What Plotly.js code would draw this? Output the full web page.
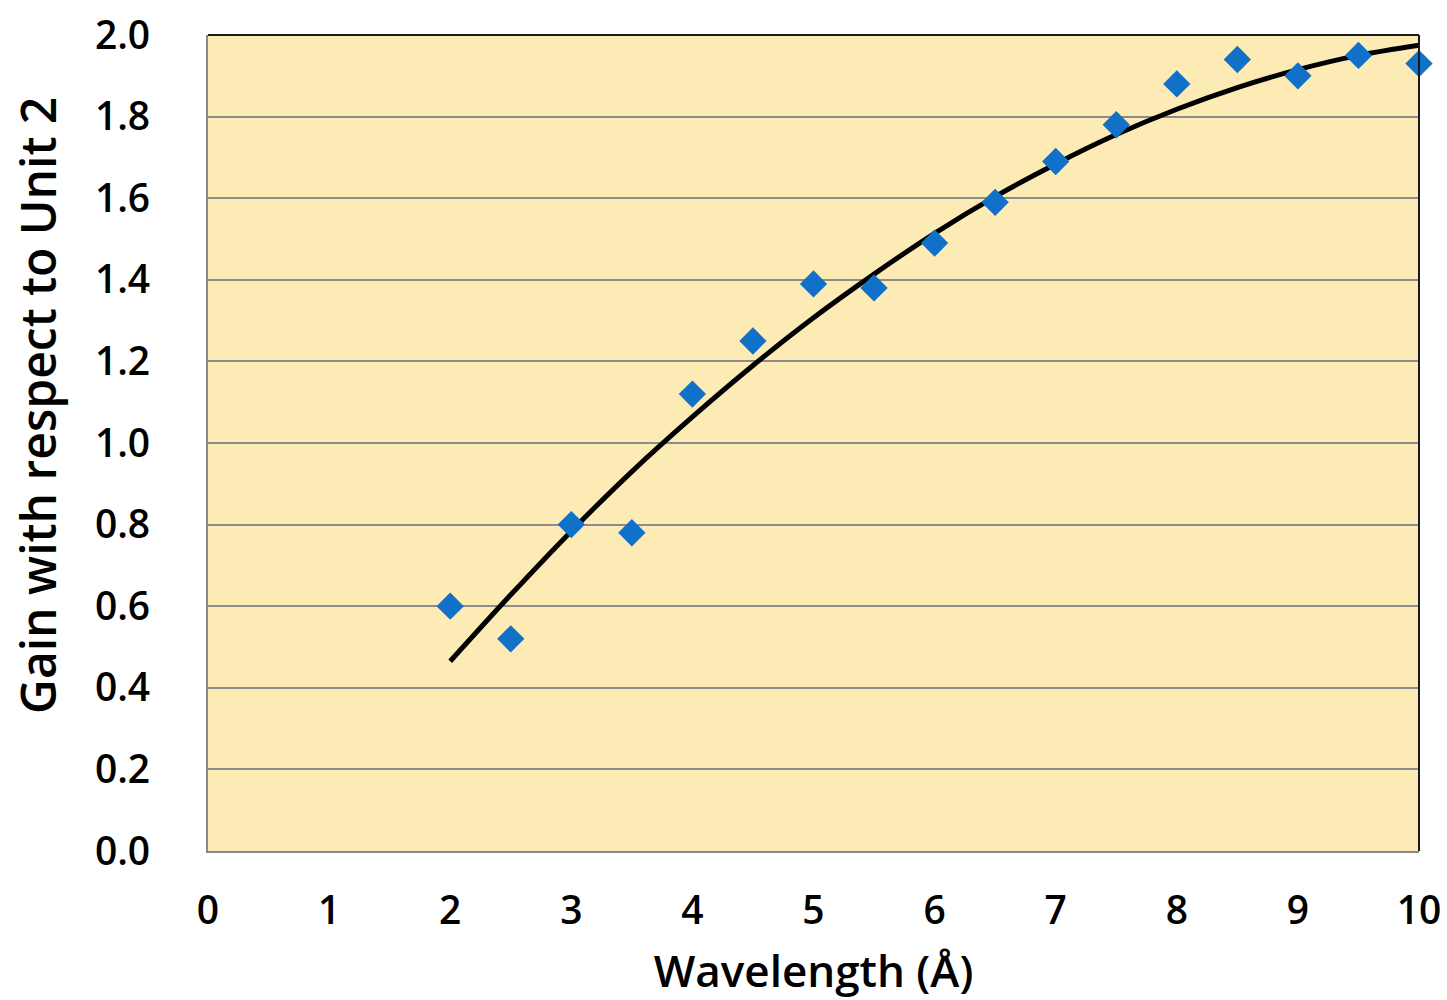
<!DOCTYPE html>
<html>
<head>
<meta charset="utf-8">
<script src="https://cdn.plot.ly/plotly-3.0.1.min.js"></script>
<style>html,body{margin:0;padding:0;background:#fff;}#chart{width:1447px;height:1000px;}</style>
</head>
<body>
<div id="chart"></div>
<script>
// Measured points
const wavelength = [2, 2.5, 3, 3.5, 4, 4.5, 5, 5.5, 6, 6.5, 7, 7.5, 8, 8.5, 9, 9.5, 10];
const gain = [0.60, 0.52, 0.80, 0.78, 1.12, 1.25, 1.39, 1.38, 1.49, 1.59, 1.69, 1.78, 1.88, 1.94, 1.90, 1.95, 1.93];
// Fitted trend curve
const fitX = [2, 2.5, 3, 3.5, 4, 4.5, 5, 5.5, 6, 6.5, 7, 7.5, 8, 8.5, 9, 9.5, 10];
const fitY = [0.465, 0.628, 0.784, 0.930, 1.064, 1.190, 1.307, 1.414, 1.514, 1.604, 1.684, 1.756, 1.818, 1.871, 1.915, 1.950, 1.975];
// Tick labels
const xTicks = [0, 1, 2, 3, 4, 5, 6, 7, 8, 9, 10];
const yTicks = [0, 0.2, 0.4, 0.6, 0.8, 1.0, 1.2, 1.4, 1.6, 1.8, 2.0];
const yTitle = 'Gain with respect to Unit 2';
const xTitle = 'Wavelength (Å)';

const FONT = '"Open Sans", "DejaVu Sans", sans-serif';

const traces = [
  {
    x: fitX, y: fitY, type: 'scatter', mode: 'lines',
    line: {color: '#000000', width: 5, shape: 'spline', smoothing: 1},
    hoverinfo: 'skip', showlegend: false
  },
  {
    x: wavelength, y: gain, type: 'scatter', mode: 'markers',
    marker: {symbol: 'diamond', size: 21, color: '#1170C8', line: {width: 0}},
    showlegend: false, cliponaxis: false
  }
];

const layout = {
  width: 1447, height: 1000,
  margin: {l: 208, r: 28, t: 35, b: 149},
  paper_bgcolor: '#ffffff',
  plot_bgcolor: '#FCEBB4',
  font: {family: FONT, color: '#000'},
  xaxis: {
    range: [0, 10], tickvals: xTicks, ticktext: xTicks.map(String),
    showgrid: false, zeroline: false,
    showline: true, linecolor: '#888888', linewidth: 2,
    ticks: '', ticklabelstandoff: 24,
    tickfont: {size: 39, family: FONT, weight: 600},
    title: {text: xTitle, font: {size: 44, family: FONT, weight: 600}, standoff: 22}
  },
  yaxis: {
    range: [0, 2.0], tickvals: yTicks, ticktext: yTicks.map(v => v.toFixed(1)),
    showgrid: true, gridcolor: '#8c8c8c', gridwidth: 2,
    zeroline: false,
    showline: true, linecolor: '#888888', linewidth: 2,
    ticks: '', ticklabelstandoff: 48,
    tickfont: {size: 39, family: FONT, weight: 600}
  },
  annotations: [
    {text: yTitle, xref: 'paper', yref: 'paper', x: -0.1404, y: 0.5466,
     xanchor: 'center', yanchor: 'middle', textangle: -90, showarrow: false,
     font: {size: 48, family: FONT, weight: 600, color: '#000'}}
  ],
  shapes: [
    {type: 'line', xref: 'paper', yref: 'paper', x0: 0, x1: 1, y0: 1, y1: 1, line: {color: '#1a1a1a', width: 2}},
    {type: 'line', xref: 'paper', yref: 'paper', x0: 1, x1: 1, y0: 0, y1: 1, line: {color: '#1a1a1a', width: 2}}
  ]
};

Plotly.newPlot('chart', traces, layout, {displayModeBar: false, staticPlot: true});
</script>
</body>
</html>
